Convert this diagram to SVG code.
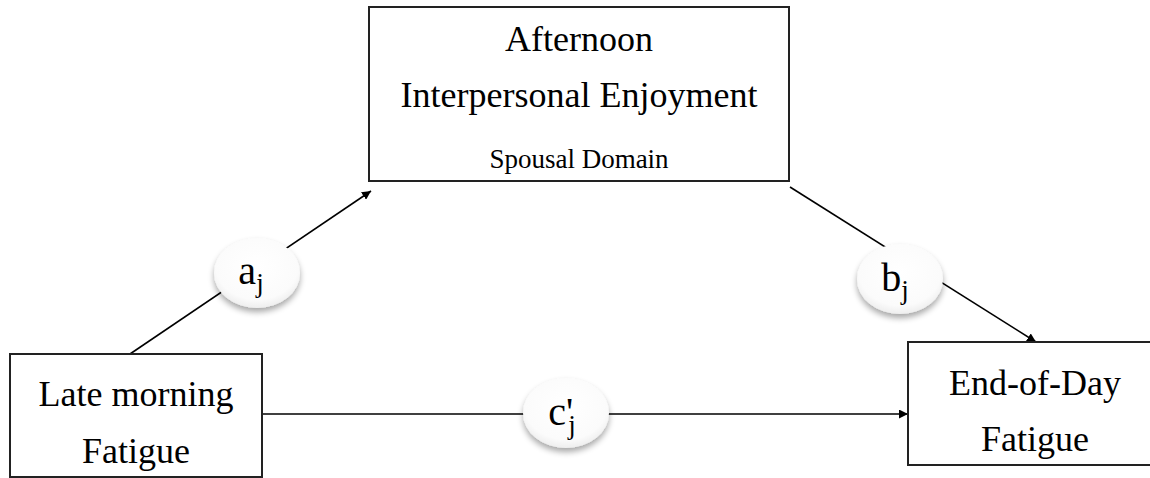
<svg xmlns="http://www.w3.org/2000/svg" width="1150" height="478" viewBox="0 0 1150 478">
  <defs>
    <style>
      .box { fill: #ffffff; stroke: #222222; stroke-width: 2; }
      .t { font-family: "Liberation Serif", "Times New Roman", serif; fill: #000000; text-anchor: middle; }
      .big { font-size: 36px; }
      .small { font-size: 27px; }
      .coefText { font-size: 40px; }
      .sub { font-size: 27px; }
      .edge { stroke: #000000; stroke-width: 1.6; fill: none; }
      .coef { fill: url(#coefFill); filter: url(#shadow); }
    </style>
    <radialGradient id="coefFill" cx="0.5" cy="0.4" r="0.6">
      <stop offset="0" stop-color="#ffffff"/>
      <stop offset="0.8" stop-color="#fbfbfb"/>
      <stop offset="1" stop-color="#eeeeee"/>
    </radialGradient>
    <filter id="shadow" x="-30%" y="-30%" width="160%" height="170%">
      <feGaussianBlur in="SourceAlpha" stdDeviation="3"/>
      <feOffset dx="0" dy="4" result="b"/>
      <feComponentTransfer><feFuncA type="linear" slope="0.35"/></feComponentTransfer>
      <feMerge><feMergeNode/><feMergeNode in="SourceGraphic"/></feMerge>
    </filter>
    <marker id="arrow" viewBox="0 0 10 10" refX="10" refY="5" markerWidth="9" markerHeight="9" markerUnits="userSpaceOnUse" orient="auto">
      <path d="M0,0 L10,5 L0,10 z" fill="#000000"/>
    </marker>
  </defs>

  <!-- connectors -->
  <g id="connectors">
    <line class="edge" x1="130" y1="354" x2="371" y2="191" marker-end="url(#arrow)"/>
    <line class="edge" x1="790" y1="187" x2="1036" y2="342" marker-end="url(#arrow)"/>
    <line class="edge" x1="262" y1="414" x2="908" y2="414" marker-end="url(#arrow)"/>
  </g>

  <!-- path coefficients -->
  <g id="coef-a">
    <ellipse class="coef" cx="257" cy="273" rx="43" ry="35"/>
    <text class="t coefText" x="251" y="284">a<tspan class="sub" dy="8">j</tspan></text>
  </g>
  <g id="coef-b">
    <ellipse class="coef" cx="900" cy="279" rx="43" ry="35"/>
    <text class="t coefText" x="895" y="291">b<tspan class="sub" dy="8">j</tspan></text>
  </g>
  <g id="coef-c">
    <ellipse class="coef" cx="566" cy="413" rx="43" ry="35"/>
    <text class="t coefText" x="562" y="425">c'<tspan class="sub" dx="-5" dy="9">j</tspan></text>
  </g>

  <!-- mediator -->
  <g id="node-mediator">
    <rect class="box" x="369" y="7" width="420" height="174"/>
    <text class="t big" x="579" y="51">Afternoon</text>
    <text class="t big" x="579" y="107">Interpersonal Enjoyment</text>
    <text class="t small" x="579" y="168">Spousal Domain</text>
  </g>

  <!-- predictor -->
  <g id="node-predictor">
    <rect class="box" x="10" y="354" width="252" height="123"/>
    <text class="t big" x="136" y="406">Late morning</text>
    <text class="t big" x="136" y="463">Fatigue</text>
  </g>

  <!-- outcome -->
  <g id="node-outcome">
    <rect class="box" x="908" y="342" width="254" height="123"/>
    <text class="t big" x="1035" y="395">End-of-Day</text>
    <text class="t big" x="1035" y="451">Fatigue</text>
  </g>
</svg>
